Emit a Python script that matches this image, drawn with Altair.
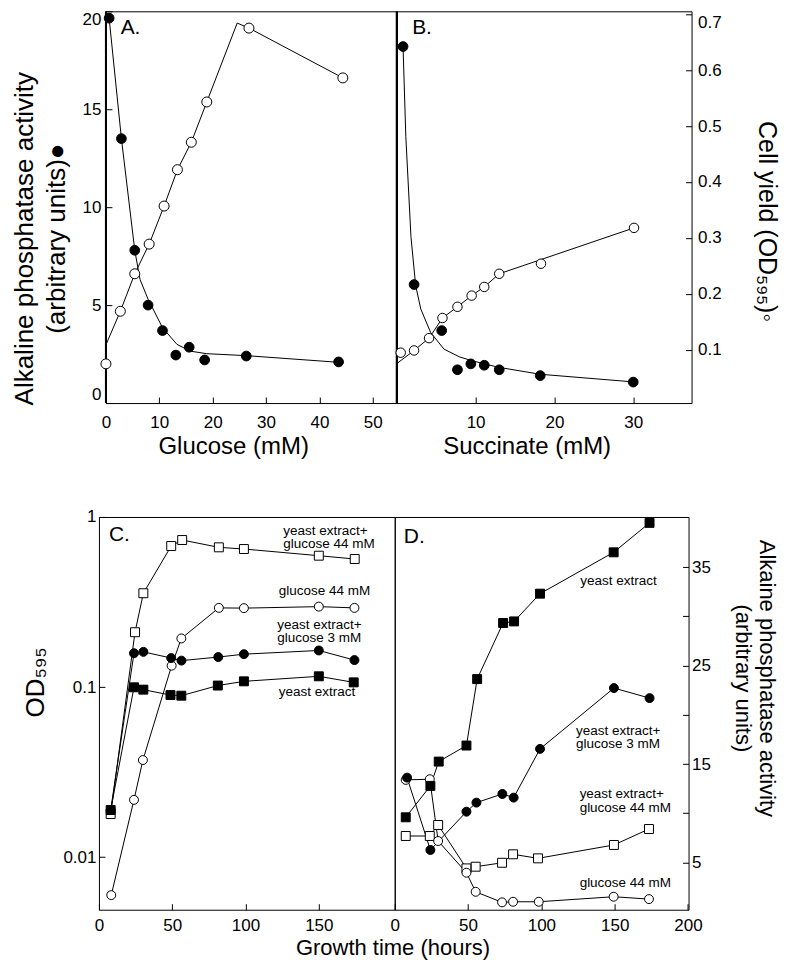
import altair as alt
import pandas as pd

FONT = "Liberation Sans"

# ---------------- Panel A : glucose ----------------
a_glucose_ap = [0.6, 2.9, 5.4, 7.9, 10.6, 13.1, 15.6, 18.5, 26.3, 43.6]
a_ap = [19.65, 13.5, 7.8, 5.0, 3.7, 2.45, 2.85, 2.2, 2.4, 2.1]
a_fit_ap_x = [0.6, 2.9, 5.4, 6.4, 7.9, 10.6, 13.3, 15.8, 18.9, 26.3, 43.6]
a_fit_ap_y = [19.65, 13.5, 7.8, 6.3, 5.3, 3.85, 3.0, 2.65, 2.52, 2.42, 2.08]
a_glucose_od = [0.0, 2.7, 5.4, 8.1, 10.9, 13.4, 16.0, 18.9, 26.8, 44.4]
a_od = [0.075, 0.169, 0.236, 0.289, 0.357, 0.422, 0.471, 0.543, 0.675, 0.586]
a_fit_od_x = [0.0, 2.7, 5.4, 8.1, 10.9, 13.4, 16.0, 18.9, 24.6, 26.8, 44.4]
a_fit_od_y = [0.109, 0.169, 0.236, 0.289, 0.357, 0.422, 0.471, 0.543, 0.684, 0.675, 0.586]

# ---------------- Panel B : succinate ----------------
b_succ_ap = [0.8, 2.2, 5.7, 7.7, 9.4, 11.1, 13.0, 18.2, 30.0]
b_ap = [18.2, 6.05, 3.7, 1.7, 2.0, 1.93, 1.7, 1.4, 1.07]
b_fit_ap_x = [0.8, 1.15, 1.8, 2.4, 3.05, 4.3, 6.0, 8.0, 9.4, 11.1, 13.0, 18.2, 30.0]
b_fit_ap_y = [18.2, 13.6, 8.5, 6.0, 4.8, 3.6, 2.75, 2.35, 2.18, 2.0, 1.82, 1.47, 1.08]
b_succ_od = [0.5, 2.2, 4.1, 5.8, 7.7, 9.5, 11.1, 13.0, 18.3, 30.1]
b_od = [0.095, 0.099, 0.121, 0.157, 0.177, 0.197, 0.2125, 0.236, 0.254, 0.318]
b_fit_od_x = [0.15, 2.2, 4.1, 5.8, 7.7, 9.5, 11.1, 13.0, 30.1]
b_fit_od_y = [0.077, 0.099, 0.121, 0.157, 0.177, 0.197, 0.2125, 0.236, 0.318]

# ---------------- Panel C : growth (OD595, log) ----------------
series = ["yeast extract+ glucose 44 mM", "glucose 44 mM",
          "yeast extract+ glucose 3 mM", "yeast extract"]
series_shape = ["square", "circle", "circle", "square"]
series_fill = ["white", "white", "black", "black"]

c_t_yeg44 = [8, 24.6, 30.3, 49.3, 56.8, 81.8, 98.9, 150, 174.5]
c_od_yeg44 = [0.0179, 0.210, 0.356, 0.675, 0.732, 0.663, 0.648, 0.592, 0.566]
c_t_g44 = [8.4, 23.9, 30.0, 49.6, 56.2, 81.8, 98.9, 150, 174.3]
c_od_g44 = [0.00597, 0.0217, 0.0372, 0.1335, 0.193, 0.292, 0.291, 0.297, 0.292]
c_t_yeg3 = [8, 23.9, 30.3, 49.3, 56.3, 81.4, 98.9, 150, 174.3]
c_od_yeg3 = [0.0189, 0.158, 0.161, 0.148, 0.143, 0.150, 0.156, 0.164, 0.144]
c_t_ye = [8, 23.9, 30.3, 48.8, 56.2, 81.1, 98.9, 150, 173.8]
c_od_ye = [0.0189, 0.0996, 0.0965, 0.0897, 0.0889, 0.102, 0.108, 0.1156, 0.1065]

c_labels = ["yeast extract+\nglucose 44 mM", "glucose 44 mM",
            "yeast extract+\nglucose 3 mM", "yeast extract"]
c_label_t = [125.7, 122.7, 121.6, 122.7]
c_label_od = [0.8306, 0.3655, 0.2325, 0.0931]

# ---------------- Panel D : alkaline phosphatase ----------------
d_t_ye = [7.5, 24.3, 30.0, 48.9, 56.2, 73.9, 81.4, 99.1, 149.3, 173.8]
d_ap_ye = [9.59, 12.78, 15.25, 16.88, 23.63, 29.33, 29.49, 32.31, 36.51, 39.5]
d_t_yeg3 = [8.4, 24.3, 48.9, 55.7, 73.4, 81.1, 99.1, 149.5, 173.8]
d_ap_yeg3 = [13.62, 6.27, 10.16, 11.08, 11.96, 11.59, 16.54, 22.72, 21.7]
d_t_yeg44 = [7.5, 23.9, 29.6, 48.9, 55.2, 73.2, 80.7, 97.7, 149.5, 173.4]
d_ap_yeg44 = [7.69, 7.69, 8.81, 4.40, 4.57, 4.97, 5.83, 5.42, 6.78, 8.40]
d_t_g44 = [7.5, 23.9, 29.6, 48.9, 55.2, 73.2, 80.7, 98.2, 149.3, 173.4]
d_ap_g44 = [13.39, 13.46, 7.18, 3.96, 2.02, 0.95, 1.01, 1.01, 1.52, 1.28]

d_labels = ["yeast extract", "yeast extract+\nglucose 3 mM",
            "yeast extract+\nglucose 44 mM", "glucose 44 mM"]
d_label_t = [126.6, 123.6, 126.1, 126.1]
d_label_ap = [33.6, 18.4, 11.93, 2.88]

# ---------------- sizes ----------------
WSP, WA, WB, H1 = 7, 291, 295, 392
WC, WD, H2 = 296, 294, 393


def axis(**kw):
    base = dict(domain=False, grid=False, ticks=True, tickSize=6, offset=-6,
                tickColor="black", tickWidth=1, labelColor="black",
                labelFontSize=17, labelFont=FONT, titleFont=FONT,
                titleColor="black", titleFontWeight="normal")
    base.update(kw)
    return alt.Axis(**base)


def xy(xs, ys):
    return pd.DataFrame({"x": xs, "y": ys})


def letter(txt, x, y):
    return alt.Chart(pd.DataFrame({"t": [txt]})).mark_text(
        font=FONT, fontSize=21, align="left", baseline="middle", color="black"
    ).encode(x=alt.value(x), y=alt.value(y), text="t:N")


line_kw = dict(color="black", strokeWidth=1)
filled_kw = dict(shape="circle", filled=True, fill="black", stroke="black",
                 strokeWidth=1, size=95, opacity=1)
open_kw = dict(shape="circle", filled=True, fill="white", stroke="black",
               strokeWidth=1, size=100, opacity=1)

AP_SCALE = alt.Scale(domain=[0, 20], nice=False, zero=False)
OD_SCALE = alt.Scale(domain=[0.005, 0.705], nice=False, zero=False)

# ---- A ----
xA = alt.X("x:Q", scale=alt.Scale(domain=[0, 54.5], nice=False, zero=False),
           axis=axis(values=[0, 10, 20, 30, 40, 50], labelPadding=11,
                     labelFlush=False, title="Glucose (mM)", titleFontSize=24,
                     titleX=127.3, titleY=49, titleBaseline="middle",
                     titleAlign="center"))
yA_ap = alt.Y("y:Q", scale=AP_SCALE,
              axis=axis(values=[0, 5, 10, 15, 20], labelPadding=5, labelFlush=True,
                        title=["Alkaline phosphatase activity", "(arbitrary units)●"],
                        titleFontSize=26, titleLineHeight=32, titleAngle=270,
                        titleX=-87.3, titleY=227, titleBaseline="middle",
                        titleAlign="center"))
yA_ap_noaxis = alt.Y("y:Q", scale=AP_SCALE, axis=None)
yA_od_noaxis = alt.Y("y:Q", scale=OD_SCALE, axis=None)

edge_df = pd.DataFrame({"x": [0]})

panelA = alt.layer(
    alt.Chart(edge_df).mark_rule(color="black", strokeWidth=2).encode(x=xA),
    alt.Chart(xy(a_fit_ap_x, a_fit_ap_y)).mark_line(**line_kw).encode(x=xA, y=yA_ap_noaxis),
    alt.Chart(xy(a_fit_od_x, a_fit_od_y)).mark_line(**line_kw).encode(x=xA, y=yA_od_noaxis),
    alt.Chart(xy(a_glucose_od, a_od)).mark_point(**open_kw).encode(x=xA, y=yA_od_noaxis),
    alt.Chart(xy(a_glucose_ap, a_ap)).mark_point(**filled_kw).encode(x=xA, y=yA_ap),
    letter("A.", 14.7, 17),
).resolve_scale(y="independent").properties(width=WA, height=H1)

# ---- B ----
xB = alt.X("x:Q", scale=alt.Scale(domain=[0, 37.4], nice=False, zero=False),
           axis=axis(values=[10, 20, 30], labelPadding=11, labelFlush=False,
                     title="Succinate (mM)", titleFontSize=24, titleX=130,
                     titleY=49, titleBaseline="middle", titleAlign="center"))
yB_od = alt.Y("y:Q", scale=OD_SCALE,
              axis=axis(orient="right", values=[0.1, 0.2, 0.3, 0.4, 0.5, 0.6, 0.7],
                        format=".1f", labelPadding=6, labelFlush=5,
                        title="Cell yield (OD₅₉₅)◦", titleFontSize=25,
                        titleAngle=90, titleX=80.7, titleY=210,
                        titleBaseline="middle", titleAlign="center"))

panelB = alt.layer(
    alt.Chart(edge_df).mark_rule(color="black", strokeWidth=2).encode(x=xB),
    alt.Chart(xy(b_fit_ap_x, b_fit_ap_y)).mark_line(**line_kw).encode(x=xB, y=yA_ap_noaxis),
    alt.Chart(xy(b_fit_od_x, b_fit_od_y)).mark_line(**line_kw).encode(x=xB, y=yA_od_noaxis),
    alt.Chart(xy(b_succ_ap, b_ap)).mark_point(**filled_kw).encode(x=xB, y=yA_ap_noaxis),
    alt.Chart(xy(b_succ_od, b_od)).mark_point(**dict(open_kw, size=90)).encode(x=xB, y=yB_od),
    letter("B.", 15.4, 17),
).resolve_scale(y="independent").properties(width=WB, height=H1)

# ---- C ----
dfC = pd.concat([
    pd.DataFrame({"t": c_t_yeg44, "v": c_od_yeg44, "s": series[0]}),
    pd.DataFrame({"t": c_t_g44, "v": c_od_g44, "s": series[1]}),
    pd.DataFrame({"t": c_t_yeg3, "v": c_od_yeg3, "s": series[2]}),
    pd.DataFrame({"t": c_t_ye, "v": c_od_ye, "s": series[3]}),
], ignore_index=True)
labC = pd.DataFrame({"t": c_label_t, "v": c_label_od, "lab": c_labels})

xC = alt.X("t:Q", scale=alt.Scale(domain=[0, 201.8], nice=False, zero=False),
           axis=axis(values=[0, 50, 100, 150], labelPadding=8, labelFlush=False,
                     title="Growth time (hours)", titleFontSize=22, titleX=293.7,
                     titleY=51, titleBaseline="alphabetic", titleAlign="center"))
yC = alt.Y("v:Q", scale=alt.Scale(type="log", domain=[0.0049, 1], nice=False),
           axis=axis(values=[0.01, 0.1, 1], format="~g", labelPadding=3,
                     labelFlush=False, title="OD₅₉₅", titleFontSize=26,
                     titleAngle=270, titleX=-69.3, titleY=165,
                     titleBaseline="middle", titleAlign="center"))

shape_enc = alt.Shape("s:N", scale=alt.Scale(domain=series, range=series_shape), legend=None)
fill_enc = alt.Fill("s:N", scale=alt.Scale(domain=series, range=series_fill), legend=None)
pt_kw = dict(filled=True, stroke="black", strokeWidth=1, size=80, opacity=1)
ann_kw = dict(font=FONT, fontSize=13.5, align="left", baseline="middle",
              lineBreak="\n", lineHeight=13.5, color="black")

panelC = alt.layer(
    alt.Chart(dfC).mark_line(**line_kw).encode(x=xC, y=yC, detail="s:N"),
    alt.Chart(dfC).mark_point(**pt_kw).encode(x=xC, y=yC, shape=shape_enc, fill=fill_enc),
    alt.Chart(labC).mark_text(**ann_kw).encode(x=xC, y=yC, text="lab:N"),
    letter("C.", 10, 18),
).properties(width=WC, height=H2)

# ---- D ----
dfD = pd.concat([
    pd.DataFrame({"t": d_t_yeg44, "v": d_ap_yeg44, "s": series[0]}),
    pd.DataFrame({"t": d_t_g44, "v": d_ap_g44, "s": series[1]}),
    pd.DataFrame({"t": d_t_yeg3, "v": d_ap_yeg3, "s": series[2]}),
    pd.DataFrame({"t": d_t_ye, "v": d_ap_ye, "s": series[3]}),
], ignore_index=True)
labD = pd.DataFrame({"t": d_label_t, "v": d_label_ap, "lab": d_labels})

xD = alt.X("t:Q", scale=alt.Scale(domain=[0, 200.4], nice=False, zero=False),
           axis=axis(values=[0, 50, 100, 150, 200], labelPadding=8,
                     labelFlush=False, title=None))
yD = alt.Y("v:Q", scale=alt.Scale(domain=[0.2, 40.1], nice=False, zero=False),
           axis=axis(orient="right", values=[5, 10, 15, 20, 25, 30, 35],
                     labelExpr="datum.value % 10 == 5 ? datum.label : ''",
                     labelPadding=3, labelFlush=False,
                     title=["Alkaine phosphatase activity", "(arbitrary units)"],
                     titleFontSize=22, titleLineHeight=24, titleAngle=90,
                     titleX=83.7, titleY=161, titleBaseline="middle",
                     titleAlign="center"))

panelD = alt.layer(
    alt.Chart(dfD).mark_line(**line_kw).encode(x=xD, y=yD, detail="s:N"),
    alt.Chart(dfD).mark_point(**pt_kw).encode(x=xD, y=yD, shape=shape_enc, fill=fill_enc),
    alt.Chart(labD).mark_text(**ann_kw).encode(x=xD, y=yD, text="lab:N"),
    letter("D.", 9, 19.7),
).properties(width=WD, height=H2)

# ---- spacer to offset the top row ----
spacer = alt.Chart(pd.DataFrame({"v": [0]})).mark_point(opacity=0).encode(
    x=alt.value(0), y=alt.value(0)
).properties(width=WSP, height=H1, view=alt.ViewBackground(stroke="transparent"))

top = alt.hconcat(spacer, panelA, panelB, spacing=0, bounds="flush")
bottom = alt.hconcat(panelC, panelD, spacing=0, bounds="flush")

chart = alt.vconcat(top, bottom, spacing=48).properties(
    padding={"left": 3, "top": -1, "right": 2.5, "bottom": 1},
    background="white",
).configure(font=FONT).configure_view(stroke="black", strokeWidth=1)

chart.save("out.html", embed_options={"renderer": "svg", "actions": False})
